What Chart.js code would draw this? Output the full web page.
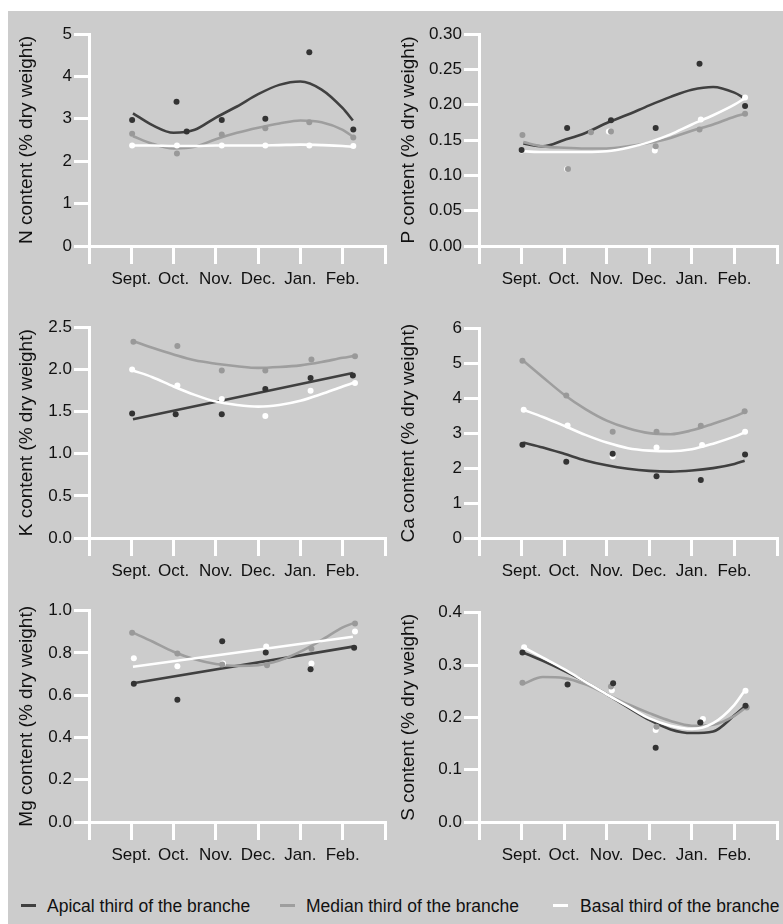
<!DOCTYPE html>
<html>
<head>
<meta charset="utf-8">
<script src="https://cdn.jsdelivr.net/npm/chart.js@4/dist/chart.umd.min.js"></script>
<style>
  body { margin: 0; background: #fff; width: 783px; height: 924px; position: relative; overflow: hidden;
         font-family: 'Liberation Sans', Arial, sans-serif; }
  #bg { position: absolute; left: 8px; top: 11px; right: 0; bottom: 0; background: #cccccc; }
  canvas { position: absolute; }
  .sw { position: absolute; top: 904px; width: 15px; height: 3px; }
  .leg { position: absolute; top: 898px; font-size: 17.5px; line-height: 1; color: #111; white-space: nowrap; }
</style>
</head>
<body>
<div id="bg"></div>
<canvas id="cN" width="382" height="289" style="left:8px;top:11px"></canvas>
<canvas id="cP" width="393" height="289" style="left:390px;top:11px"></canvas>
<canvas id="cK" width="382" height="290" style="left:8px;top:300px"></canvas>
<canvas id="cCa" width="393" height="290" style="left:390px;top:300px"></canvas>
<canvas id="cMg" width="382" height="280" style="left:8px;top:590px"></canvas>
<canvas id="cS" width="393" height="280" style="left:390px;top:590px"></canvas>

<div class="sw" style="left:21px;background:#404040"></div>
<div class="leg" style="left:47px">Apical third of the branche</div>
<div class="sw" style="left:280px;background:#9e9e9e"></div>
<div class="leg" style="left:306px">Median third of the branche</div>
<div class="sw" style="left:553px;background:#fff"></div>
<div class="leg" style="left:580px">Basal third of the branche</div>

<script>
const months = ['Sept.', 'Oct.', 'Nov.', 'Dec.', 'Jan.', 'Feb.'];

// positions (month units, Sept. = 1) where the fitted curves were read
const fitX = [1.04, 1.5, 2, 2.5, 3, 3.5, 4, 4.5, 5, 5.5, 6, 6.24];
const lineX = [1.04, 6.24];

// N
const nApicalPts = [[1.02, 2.97], [2.07, 3.40], [2.31, 2.70], [3.14, 2.97], [4.17, 3.00], [5.21, 4.57], [6.25, 2.75]];
const nMedianPts = [[1.02, 2.65], [2.08, 2.18], [3.14, 2.63], [4.17, 2.78], [5.21, 2.92], [6.25, 2.56]];
const nBasalPts = [[1.02, 2.37], [2.08, 2.37], [3.14, 2.37], [4.17, 2.37], [5.21, 2.37], [6.25, 2.36]];
const nApicalFit = [3.13, 2.85, 2.67, 2.74, 3.03, 3.29, 3.58, 3.80, 3.88, 3.69, 3.25, 2.96];
const nMedianFit = [2.59, 2.41, 2.30, 2.34, 2.52, 2.67, 2.79, 2.89, 2.96, 2.92, 2.74, 2.58];
const nBasalFit = [2.37, 2.37, 2.36, 2.36, 2.37, 2.37, 2.37, 2.38, 2.39, 2.38, 2.36, 2.34];

// P
const pApicalPts = [[1.00, 0.136], [2.07, 0.167], [3.10, 0.178], [4.15, 0.167], [5.18, 0.258], [6.25, 0.198]];
const pMedianPts = [[1.02, 0.157], [2.09, 0.109], [2.63, 0.161], [3.10, 0.162], [4.15, 0.141], [5.18, 0.165], [6.25, 0.187]];
const pBasalPts = [[1.00, 0.135], [2.07, 0.109], [3.05, 0.162], [4.13, 0.135], [5.21, 0.179], [6.25, 0.210]];
const pApicalFit = [0.145, 0.141, 0.150, 0.160, 0.174, 0.186, 0.199, 0.211, 0.221, 0.225, 0.217, 0.209];
const pMedianFit = [0.147, 0.141, 0.139, 0.138, 0.138, 0.141, 0.146, 0.153, 0.163, 0.172, 0.183, 0.187];
const pBasalFit = [0.134, 0.133, 0.133, 0.133, 0.134, 0.139, 0.147, 0.158, 0.172, 0.185, 0.200, 0.209];

// K
const kApicalPts = [[1.02, 1.48], [2.05, 1.47], [3.14, 1.47], [4.17, 1.77], [5.24, 1.90], [6.24, 1.93]];
const kMedianPts = [[1.05, 2.33], [2.09, 2.28], [3.14, 1.99], [4.17, 1.99], [5.26, 2.12], [6.29, 2.16]];
const kBasalPts = [[1.02, 2.00], [2.09, 1.81], [3.14, 1.65], [4.17, 1.45], [5.24, 1.75], [6.29, 1.84]];
const kApicalFit = [1.41, 1.96];
const kMedianFit = [2.34, 2.26, 2.18, 2.11, 2.07, 2.04, 2.02, 2.03, 2.05, 2.09, 2.14, 2.16];
const kBasalFit = [1.99, 1.91, 1.80, 1.70, 1.62, 1.58, 1.56, 1.58, 1.63, 1.71, 1.80, 1.84];

// Ca
const caApicalPts = [[1.02, 2.67], [2.05, 2.18], [3.14, 2.41], [4.17, 1.77], [5.21, 1.66], [6.25, 2.39]];
const caMedianPts = [[1.02, 5.07], [2.05, 4.08], [3.14, 3.04], [4.17, 3.04], [5.21, 3.21], [6.24, 3.63]];
const caBasalPts = [[1.05, 3.67], [2.08, 3.22], [3.14, 2.33], [4.17, 2.59], [5.24, 2.66], [6.25, 3.04]];
const caApicalFit = [2.73, 2.59, 2.41, 2.22, 2.08, 1.98, 1.92, 1.90, 1.93, 2.00, 2.12, 2.21];
const caMedianFit = [5.07, 4.60, 4.10, 3.69, 3.36, 3.14, 3.00, 2.97, 3.08, 3.27, 3.48, 3.60];
const caBasalFit = [3.67, 3.46, 3.21, 2.95, 2.73, 2.57, 2.50, 2.48, 2.54, 2.70, 2.90, 3.02];

// Mg
const mgApicalPts = [[1.06, 0.654], [2.09, 0.578], [3.15, 0.855], [4.18, 0.802], [5.24, 0.723], [6.27, 0.825]];
const mgMedianPts = [[1.02, 0.896], [2.09, 0.798], [3.15, 0.745], [4.21, 0.742], [5.26, 0.820], [6.29, 0.940]];
const mgBasalPts = [[1.06, 0.775], [2.09, 0.737], [3.17, 0.750], [4.19, 0.830], [5.26, 0.750], [6.29, 0.902]];
const mgApicalFit = [0.657, 0.830];
const mgMedianFit = [0.896, 0.854, 0.806, 0.770, 0.748, 0.739, 0.742, 0.764, 0.806, 0.861, 0.921, 0.940];
const mgBasalFit = [0.735, 0.877];

// S
const sApicalPts = [[1.02, 0.324], [2.08, 0.263], [3.15, 0.265], [4.15, 0.142], [5.20, 0.190], [6.26, 0.222]];
const sMedianPts = [[1.02, 0.266], [3.10, 0.259], [4.17, 0.182], [5.19, 0.190], [6.29, 0.219]];
const sBasalPts = [[1.06, 0.334], [3.12, 0.252], [4.15, 0.176], [5.26, 0.197], [6.26, 0.251]];
const sApicalFit = [0.324, 0.308, 0.289, 0.268, 0.244, 0.219, 0.195, 0.177, 0.170, 0.173, 0.204, 0.221];
const sMedianFit = [0.264, 0.277, 0.275, 0.263, 0.244, 0.225, 0.208, 0.193, 0.184, 0.186, 0.203, 0.217];
const sBasalFit = [0.334, 0.314, 0.292, 0.268, 0.244, 0.221, 0.198, 0.184, 0.178, 0.189, 0.224, 0.251];

const lineCols = ['#404040', '#9e9e9e', '#ffffff'];
const dotCols = ['#333333', '#999999', '#ffffff'];
const FONT = "'Liberation Sans', Arial, sans-serif";

// page geometry of each panel: canvas box and where the axes sit
const panels = [
  { id: 'cN', left: 8, top: 11, w: 382, h: 289, axisX: 89, axisTop: 34, axisY: 246, axisRight: 387,
    max: 5, step: 1, dec: 0, title: 'N content (% dry weight)',
    pts: [nApicalPts, nMedianPts, nBasalPts], fits: [nApicalFit, nMedianFit, nBasalFit] },
  { id: 'cP', left: 390, top: 11, w: 393, h: 289, axisX: 479, axisTop: 34, axisY: 246, axisRight: 777,
    max: 0.3, step: 0.05, dec: 2, title: 'P content (% dry weight)',
    pts: [pApicalPts, pMedianPts, pBasalPts], fits: [pApicalFit, pMedianFit, pBasalFit] },
  { id: 'cK', left: 8, top: 300, w: 382, h: 290, axisX: 89, axisTop: 327.5, axisY: 538, axisRight: 387,
    max: 2.5, step: 0.5, dec: 1, title: 'K content (% dry weight)',
    pts: [kApicalPts, kMedianPts, kBasalPts], fits: [kApicalFit, kMedianFit, kBasalFit] },
  { id: 'cCa', left: 390, top: 300, w: 393, h: 290, axisX: 479, axisTop: 328.3, axisY: 538, axisRight: 777,
    max: 6, step: 1, dec: 0, title: 'Ca content (% dry weight)',
    pts: [caApicalPts, caMedianPts, caBasalPts], fits: [caApicalFit, caMedianFit, caBasalFit] },
  { id: 'cMg', left: 8, top: 590, w: 382, h: 280, axisX: 89, axisTop: 610.7, axisY: 822, axisRight: 387,
    max: 1.0, step: 0.2, dec: 1, title: 'Mg content (% dry weight)',
    pts: [mgApicalPts, mgMedianPts, mgBasalPts], fits: [mgApicalFit, mgMedianFit, mgBasalFit] },
  { id: 'cS', left: 390, top: 590, w: 393, h: 280, axisX: 479, axisTop: 612.7, axisY: 822, axisRight: 777,
    max: 0.4, step: 0.1, dec: 1, title: 'S content (% dry weight)',
    pts: [sApicalPts, sMedianPts, sBasalPts], fits: [sApicalFit, sMedianFit, sBasalFit] }
];

panels.forEach(function (p) {
  const datasets = [];
  p.pts.forEach(function (pts, i) {
    datasets.push({
      data: pts.map(function (d) { return { x: d[0], y: d[1] }; }),
      showLine: false,
      pointRadius: 3,
      pointBorderWidth: 0,
      pointBackgroundColor: dotCols[i],
      order: i
    });
  });
  p.fits.forEach(function (fit, i) {
    const xs = fit.length === 2 ? lineX : fitX;
    datasets.push({
      data: fit.map(function (y, j) { return { x: xs[j], y: y }; }),
      showLine: true,
      pointRadius: 0,
      borderColor: lineCols[i],
      borderWidth: 2.6,
      cubicInterpolationMode: 'monotone',
      order: 3 + (2 - i)
    });
  });

  const axisGrid = { drawOnChartArea: false, drawTicks: true, color: '#fff', lineWidth: 3 };
  const axisBorder = { display: true, color: '#fff', width: 3 };

  new Chart(document.getElementById(p.id).getContext('2d'), {
    type: 'scatter',
    data: { datasets: datasets },
    options: {
      responsive: false,
      animation: false,
      layout: { padding: { top: p.axisTop - p.top, right: p.left + p.w - p.axisRight, bottom: 0, left: 0 } },
      plugins: { legend: { display: false }, tooltip: { enabled: false } },
      scales: {
        x: {
          type: 'linear', min: 0, max: 7,
          afterFit: function (s) { s.height = p.h - (p.axisY - p.top); },
          ticks: {
            stepSize: 1, autoSkip: false, maxRotation: 0, padding: 5, color: '#111',
            font: { family: FONT, size: 17 },
            callback: function (v) { return months[v - 1] || ''; }
          },
          grid: Object.assign({ tickLength: 18 }, axisGrid),
          border: axisBorder
        },
        y: {
          min: 0, max: p.max,
          afterFit: function (s) { s.width = p.axisX - p.left; },
          ticks: {
            stepSize: p.step, padding: 2, color: '#111',
            font: { family: FONT, size: 17 },
            callback: function (v) { return Number(v).toFixed(p.dec); }
          },
          grid: Object.assign({ tickLength: 15 }, axisGrid),
          border: axisBorder,
          title: {
            display: true, text: p.title, color: '#111',
            font: { family: FONT, size: 19 },
            padding: { top: 7, bottom: 0 }
          }
        }
      }
    }
  });
});
</script>
</body>
</html>
